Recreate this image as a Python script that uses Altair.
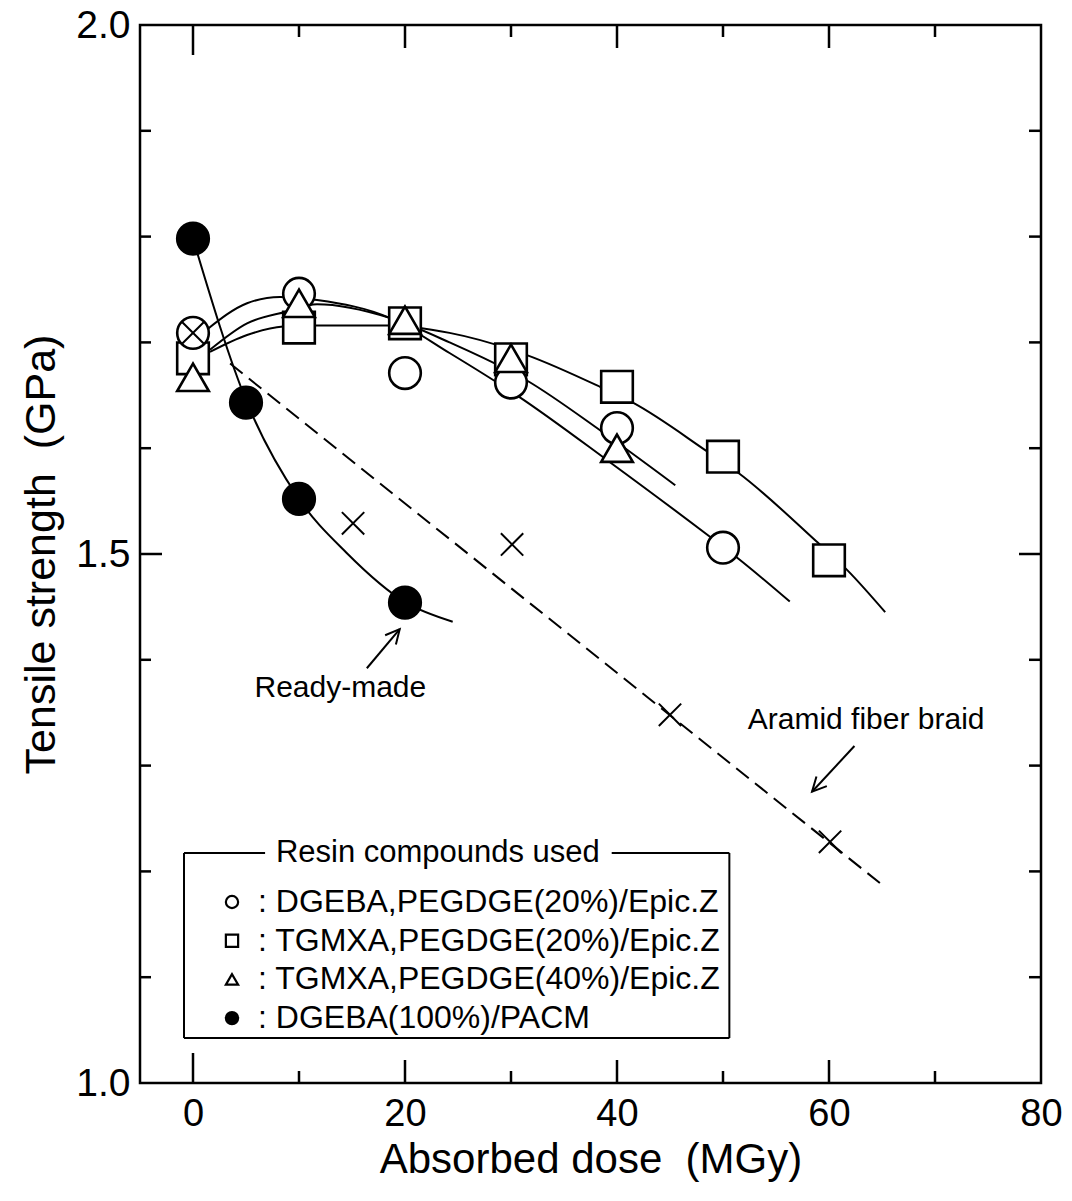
import altair as alt
import pandas as pd

# ---------------- data ----------------
S_CIRC = "DGEBA,PEGDGE(20%)/Epic.Z"
S_SQ = "TGMXA,PEGDGE(20%)/Epic.Z"
S_TRI = "TGMXA,PEGDGE(40%)/Epic.Z"
S_FILL = "DGEBA(100%)/PACM"
series_order = [S_CIRC, S_SQ, S_TRI, S_FILL]

dose_sq = [0, 10, 20, 30, 40, 50, 60]
ts_sq = [1.685, 1.714, 1.718, 1.684, 1.658, 1.592, 1.494]
dose_circ = [0, 10, 20, 30, 40, 50]
ts_circ = [1.709, 1.746, 1.671, 1.662, 1.619, 1.506]
dose_tri = [0, 10, 20, 30, 40]
ts_tri = [1.667, 1.737, 1.721, 1.685, 1.600]
dose_fill = [0, 5, 10, 20]
ts_fill = [1.798, 1.643, 1.552, 1.454]

dose_aramid = [0, 15.1, 30.1, 45, 60.1]
ts_aramid = [1.709, 1.529, 1.509, 1.348, 1.228]

# fitted curves
curve_circ_x = [1.3, 5.1, 8.2, 11.7, 18.6, 24.2, 30.7, 39.3, 48.8, 51.4, 56.3]
curve_circ_y = [1.712, 1.737, 1.743, 1.740, 1.723, 1.690, 1.649, 1.587, 1.516, 1.496, 1.455]
curve_tri_x = [1.6, 5.1, 8.8, 11.7, 18.6, 24.2, 31.5, 38.4, 45.5]
curve_tri_y = [1.693, 1.718, 1.729, 1.736, 1.723, 1.700, 1.664, 1.617, 1.565]
curve_sq_x = [1.6, 5.1, 8.5, 11.7, 18.6, 24.2, 31.5, 38.4, 41.5, 48.5, 51.4, 58.8, 61.7, 65.3]
curve_sq_y = [1.691, 1.707, 1.715, 1.716, 1.716, 1.709, 1.688, 1.658, 1.643, 1.597, 1.577, 1.512, 1.485, 1.445]
curve_fill_x = [0, 5.1, 10, 14.5, 20.1, 24.5]
curve_fill_y = [1.798, 1.643, 1.552, 1.501, 1.454, 1.436]
aramid_line_x = [3.5, 64.8]
aramid_line_y = [1.680, 1.189]

# axis ticks
x_major = [20, 40, 60]
x_zero = [0]
x_minor = [10, 30, 50, 70]
y_major = [1.5]
y_minor = [1.1, 1.2, 1.3, 1.4, 1.6, 1.7, 1.8, 1.9]
x_labels = [0, 20, 40, 60, 80]
y_labels = [1.0, 1.5, 2.0]

# annotations
ann_text = ["Ready-made", "Aramid fiber braid"]
ann_x = [13.9, 63.5]
ann_y = [1.373, 1.343]
arrow_tail_x = [16.4, 62.4]
arrow_tail_y = [1.392, 1.3185]
arrow_head_x = [19.5, 58.4]
arrow_head_y = [1.429, 1.2753]
arrow_angle = [40.5, 222.8]

# legend frame (box with gap for its title)
frame_x1 = [-0.85, 39.5, -0.85, 50.6, -0.85]
frame_x2 = [6.8, 50.6, -0.85, 50.6, 50.6]
frame_y1 = [1.2174, 1.2174, 1.0425, 1.0425, 1.0425]
frame_y2 = [1.2174, 1.2174, 1.2174, 1.2174, 1.0425]
frame_title = "Resin compounds used"
frame_title_x = 23.1
frame_title_y = 1.2174

# ---------------- tables ----------------
W, H = 901, 1058
REG = "Liberation Sans, Arial, Helvetica"

pts = pd.DataFrame(
    [(d, t, S_SQ) for d, t in zip(dose_sq, ts_sq)]
    + [(d, t, S_CIRC) for d, t in zip(dose_circ, ts_circ)]
    + [(d, t, S_TRI) for d, t in zip(dose_tri, ts_tri)]
    + [(d, t, S_FILL) for d, t in zip(dose_fill, ts_fill)],
    columns=["dose", "ts", "series"],
)
pts["order"] = range(len(pts))

curves = pd.DataFrame(
    [(x, y, "c") for x, y in zip(curve_circ_x, curve_circ_y)]
    + [(x, y, "t") for x, y in zip(curve_tri_x, curve_tri_y)]
    + [(x, y, "s") for x, y in zip(curve_sq_x, curve_sq_y)]
    + [(x, y, "f") for x, y in zip(curve_fill_x, curve_fill_y)],
    columns=["dose", "ts", "curve"],
)
aramid_line = pd.DataFrame({"dose": aramid_line_x, "ts": aramid_line_y})
aramid_pts = pd.DataFrame({"dose": dose_aramid, "ts": ts_aramid})
anns = pd.DataFrame({"dose": ann_x, "ts": ann_y, "text": ann_text})
arrows = pd.DataFrame({"dose": arrow_tail_x, "ts": arrow_tail_y,
                       "dose2": arrow_head_x, "ts2": arrow_head_y})
heads = pd.DataFrame({"dose": arrow_head_x, "ts": arrow_head_y, "ang": arrow_angle})
frame = pd.DataFrame({"dose": frame_x1, "dose2": frame_x2, "ts": frame_y1, "ts2": frame_y2})
ftitle = pd.DataFrame({"dose": [frame_title_x], "ts": [frame_title_y], "text": [frame_title]})

xscale = alt.Scale(domain=[-5, 80], nice=False, zero=False)
yscale = alt.Scale(domain=[1.0, 2.0], nice=False, zero=False)
xaxis = alt.Axis(values=x_labels, ticks=False, domain=False, grid=False,
                 labelFont=REG, labelFontSize=38, labelColor="black",
                 labelPadding=12, labelFlush=False, labelOverlap=False,
                 title="Absorbed dose\u00a0 (MGy)", titleFont=REG, titleFontSize=42,
                 titleFontWeight="normal", titleColor="black", titlePadding=6)
yaxis = alt.Axis(values=y_labels, format=".1f", ticks=False, domain=False, grid=False,
                 labelFont=REG, labelFontSize=39, labelColor="black", labelPadding=10,
                 labelOverlap=False,
                 title="Tensile strength\u00a0 (GPa)", titleFont=REG, titleFontSize=43,
                 titleFontWeight="normal", titleColor="black", titlePadding=12)

X = alt.X("dose:Q", scale=xscale, axis=xaxis)
Y = alt.Y("ts:Q", scale=yscale, axis=yaxis)


def tick_df(vals):
    return pd.DataFrame({"v": vals})


XT = alt.X("v:Q", scale=xscale, axis=xaxis)
YT = alt.Y("v:Q", scale=yscale, axis=yaxis)
TW = 2.5


def rule():
    return alt.Chart().mark_rule(color="black", strokeWidth=TW)


ticks = [
    alt.Chart(tick_df(x_zero)).mark_rule(color="black", strokeWidth=TW).encode(x=XT, y=alt.value(H), y2=alt.value(H - 30)),
    alt.Chart(tick_df(x_zero)).mark_rule(color="black", strokeWidth=TW).encode(x=XT, y=alt.value(0), y2=alt.value(30)),
    alt.Chart(tick_df(x_major)).mark_rule(color="black", strokeWidth=TW).encode(x=XT, y=alt.value(H), y2=alt.value(H - 23)),
    alt.Chart(tick_df(x_minor)).mark_rule(color="black", strokeWidth=TW).encode(x=XT, y=alt.value(H), y2=alt.value(H - 12)),
    alt.Chart(tick_df(x_major)).mark_rule(color="black", strokeWidth=TW).encode(x=XT, y=alt.value(0), y2=alt.value(23)),
    alt.Chart(tick_df(x_minor)).mark_rule(color="black", strokeWidth=TW).encode(x=XT, y=alt.value(0), y2=alt.value(12)),
    alt.Chart(tick_df(y_major)).mark_rule(color="black", strokeWidth=TW).encode(y=YT, x=alt.value(0), x2=alt.value(22)),
    alt.Chart(tick_df(y_minor)).mark_rule(color="black", strokeWidth=TW).encode(y=YT, x=alt.value(0), x2=alt.value(11)),
    alt.Chart(tick_df(y_major)).mark_rule(color="black", strokeWidth=TW).encode(y=YT, x=alt.value(W), x2=alt.value(W - 22)),
    alt.Chart(tick_df(y_minor)).mark_rule(color="black", strokeWidth=TW).encode(y=YT, x=alt.value(W), x2=alt.value(W - 12)),
]

dashed = alt.Chart(aramid_line).mark_line(color="black", strokeWidth=2, strokeDash=[16, 8]).encode(x=X, y=Y)
curve_lines = alt.Chart(curves).mark_line(color="black", strokeWidth=2, interpolate="monotone").encode(
    x=X, y=Y, detail="curve:N")

leg = alt.Legend(orient="none", legendX=76, legendY=861, title=None, padding=0,
                 labelExpr="': ' + datum.label", labelFont=REG, labelFontSize=32,
                 labelColor="black", labelLimit=1000, labelOffset=10,
                 symbolSize=150, symbolStrokeWidth=2.2, symbolStrokeColor="black",
                 rowPadding=6.7, symbolOpacity=1)
points = alt.Chart(pts).mark_point(filled=True, strokeWidth=2.6, size=1000, opacity=1).encode(
    x=X, y=Y,
    shape=alt.Shape("series:N", scale=alt.Scale(domain=series_order,
                    range=["circle", "square", "triangle-up", "circle"]), legend=leg),
    fill=alt.Fill("series:N", scale=alt.Scale(domain=series_order,
                  range=["white", "white", "white", "black"]), legend=leg),
    stroke=alt.Stroke("series:N", scale=alt.Scale(domain=series_order,
                      range=["black", "black", "black", "black"]), legend=leg),
    order=alt.Order("order:Q"),
)
crosses = alt.Chart(aramid_pts).mark_point(shape="M-1,-1L1,1M-1,1L1,-1", filled=False,
                                            color="black", strokeWidth=2, size=500, opacity=1).encode(x=X, y=Y)

ann_txt = alt.Chart(anns).mark_text(font=REG, fontSize=30, color="black", align="center", baseline="middle").encode(
    x=X, y=Y, text="text:N")
shafts = alt.Chart(arrows).mark_rule(color="black", strokeWidth=2).encode(
    x=X, y=Y, x2=alt.X2("dose2:Q"), y2=alt.Y2("ts2:Q"))
arrowheads = alt.Chart(heads).mark_point(shape="M-0.5,1L0,0L0.5,1", filled=False, color="black",
                                         strokeWidth=2, size=800, opacity=1).encode(
    x=X, y=Y, angle=alt.Angle("ang:Q", scale=None))

frame_rules = alt.Chart(frame).mark_rule(color="black", strokeWidth=2).encode(
    x=X, y=Y, x2=alt.X2("dose2:Q"), y2=alt.Y2("ts2:Q"))
frame_txt = alt.Chart(ftitle).mark_text(font=REG, fontSize=31, color="black", align="center", baseline="middle").encode(
    x=X, y=Y, text="text:N")

chart = alt.layer(
    *ticks, dashed, curve_lines, points, crosses, shafts, arrowheads, ann_txt, frame_rules, frame_txt
).properties(
    width=W, height=H,
    autosize=alt.AutoSizeParams(type="none"),
    padding={"left": 140, "top": 25, "right": 31, "bottom": 118},
    background="white",
).configure_view(stroke="black", strokeWidth=2.5)

chart.save("out.html", embed_options={"renderer": "svg", "actions": False})
